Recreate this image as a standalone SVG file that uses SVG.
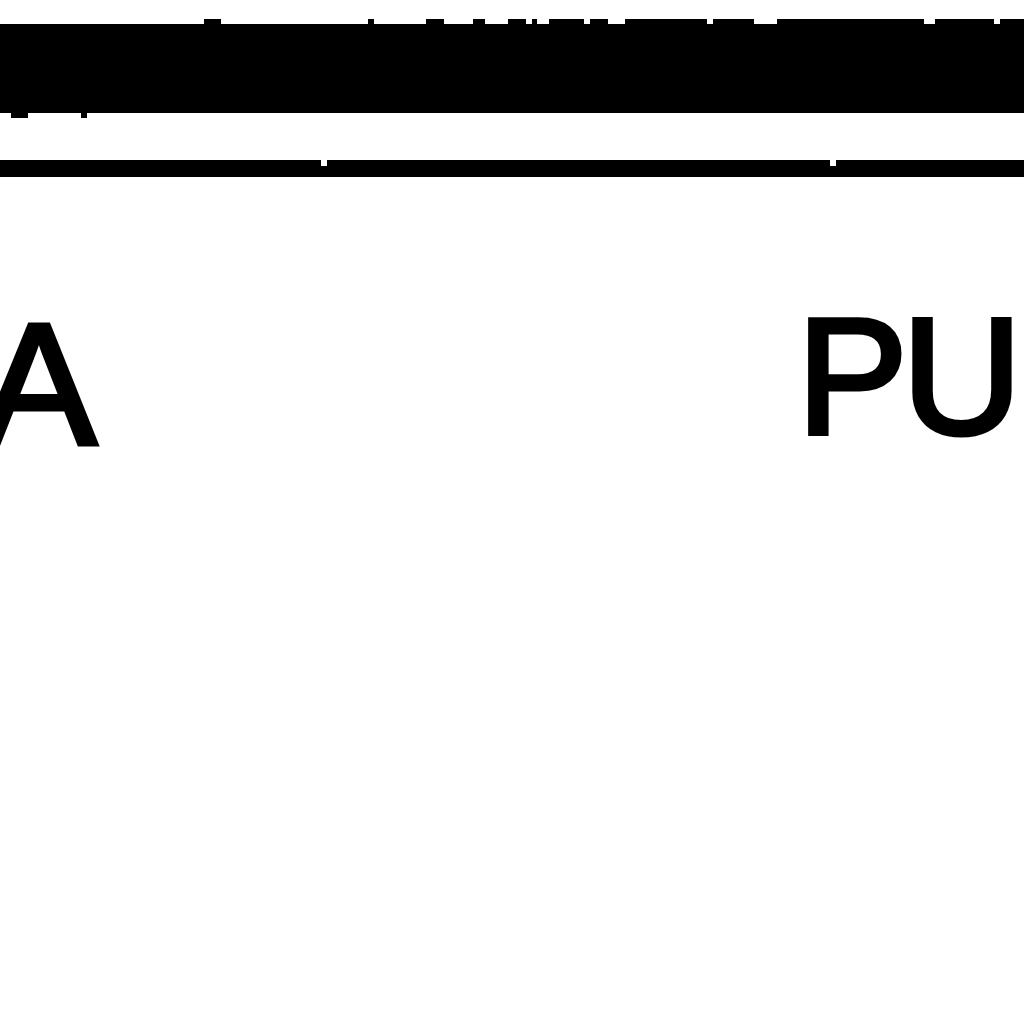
<svg xmlns="http://www.w3.org/2000/svg" width="1024" height="1024" viewBox="0 0 1024 1024">
<style>
.ink{fill:#000}
.gap{fill:#fff}
.t{font-family:"Liberation Sans",Arial,sans-serif;fill:#000;stroke:#000;stroke-width:5;stroke-linejoin:miter}
</style>
<rect x="0" y="0" width="1024" height="1024" fill="#fff"/>
<g id="band">
<rect class="ink" x="0" y="24" width="1024" height="89"/>
<rect class="ink" x="204" y="19" width="17" height="5"/>
<rect class="ink" x="368" y="19" width="6" height="5"/>
<rect class="ink" x="426" y="19" width="18" height="5"/>
<rect class="ink" x="473" y="19" width="12" height="5"/>
<rect class="ink" x="508" y="19" width="18" height="5"/>
<rect class="ink" x="532" y="19" width="5" height="5"/>
<rect class="ink" x="549" y="19" width="35" height="5"/>
<rect class="ink" x="590" y="19" width="18" height="5"/>
<rect class="ink" x="625" y="19" width="82" height="5"/>
<rect class="ink" x="713" y="19" width="41" height="5"/>
<rect class="ink" x="777" y="19" width="147" height="5"/>
<rect class="ink" x="935" y="19" width="59" height="5"/>
<rect class="ink" x="1000" y="19" width="24" height="5"/>
<rect class="ink" x="11" y="113" width="17" height="5"/>
<rect class="ink" x="81" y="113" width="6" height="5"/>
</g>
<g id="rule">
<rect class="ink" x="0" y="160" width="1024" height="17"/>
<rect class="gap" x="321" y="160" width="6" height="6"/>
<rect class="gap" x="830" y="160" width="6" height="6"/>
</g>
<g id="label-a">
<text class="t" x="-19" y="444" font-size="173">A</text>
</g>
<g id="label-pu">
<text class="t" y="433" font-size="166"><tspan x="797">P</tspan><tspan x="902">U</tspan></text>
</g>
</svg>
